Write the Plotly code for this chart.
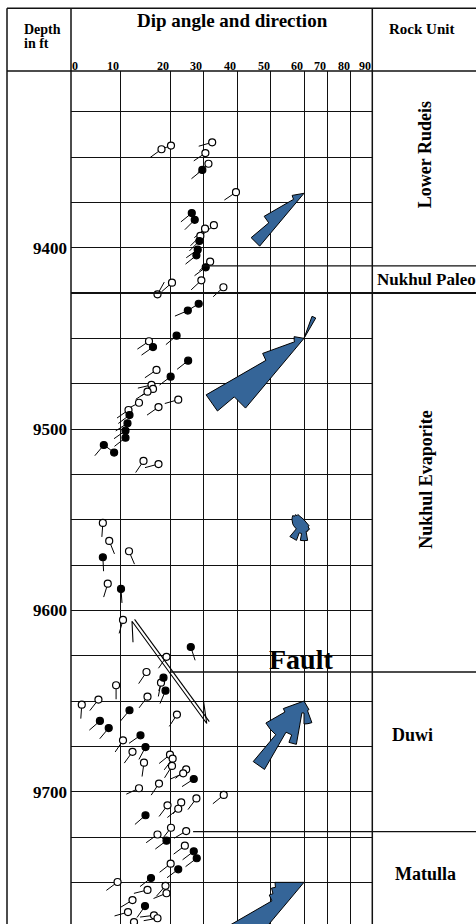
import numpy as np
import plotly.graph_objects as go

FIG_W, FIG_H = 476, 924
SERIF = "Liberation Serif"

# ---- dip track: non-linear dipmeter scale ----
scale_dips = [0, 10, 20, 30, 40, 50, 60, 70, 80, 90]
scale_pos = [0.0, 49.0, 99.0, 132.0, 166.0, 199.7, 233.0, 256.0, 279.7, 301.3]
scale_labels = ["0", "10", "20", "30", "40", "50", "60", "70", "80", "90"]

# ---- depth axis (ft) ----
depth_top = 9302.55
depth_base = 9772.97
depth_ticks = [9400, 9500, 9600, 9700]
grid_step = 25

# ---- tadpoles: depth (ft), dip (deg), dip azimuth (deg), solid symbol flag ----
tad_depth = [9345.7, 9343.7, 9341.9, 9347.8, 9353.7, 9357.1, 9369.4, 9380.9, 9384.6, 9389.5,
             9387.6, 9393.5, 9396.3, 9401.1, 9404.2, 9407.7, 9410.8, 9418.0, 9419.3, 9425.7,
             9421.8, 9430.9, 9434.7, 9448.5, 9451.6, 9454.8, 9462.3, 9467.4, 9471.1, 9475.7,
             9477.9, 9479.4, 9485.5, 9483.8, 9487.9, 9489.5, 9492.3, 9496.8, 9500.9, 9504.8,
             9508.8, 9513.0, 9517.6, 9519.3, 9551.8, 9561.7, 9567.4, 9570.7, 9585.3, 9588.2,
             9605.3, 9620.2, 9625.6, 9634.0, 9637.1, 9639.9, 9644.3, 9641.3, 9647.6, 9649.2,
             9652.0, 9655.1, 9657.5, 9661.0, 9664.9, 9671.7, 9668.9, 9675.4, 9678.0, 9684.0,
             9679.6, 9681.8, 9685.8, 9687.7, 9689.9, 9693.0, 9698.1, 9695.5, 9701.8, 9703.7,
             9705.9, 9709.4, 9707.5, 9713.0, 9719.9, 9721.7, 9723.6, 9727.0, 9729.8, 9732.9,
             9736.7, 9739.7, 9742.8, 9749.8, 9747.6, 9751.9, 9754.2, 9756.0, 9759.8, 9763.1,
             9766.4, 9768.2, 9769.8, 9771.9]
tad_dip = [18.3, 20.3, 32.7, 30.7, 31.6, 29.8, 39.7, 26.6, 27.5, 30.6,
           33.2, 29.2, 28.9, 28.4, 28.0, 32.1, 30.8, 29.5, 20.6, 17.5,
           36.0, 28.7, 25.4, 22.0, 15.8, 16.6, 25.5, 17.3, 20.2, 16.3,
           16.6, 15.5, 13.8, 22.5, 17.7, 11.7, 11.9, 11.5, 11.1, 11.1,
           6.7, 8.8, 14.7, 17.7, 6.5, 7.8, 11.8, 6.5, 7.5, 10.2,
           10.6, 26.3, 19.3, 15.3, 18.7, 18.2, 19.1, 9.2, 15.5, 5.6,
           2.2, 11.9, 22.1, 5.9, 7.7, 10.6, 14.1, 15.1, 12.5, 14.8,
           20.0, 20.8, 20.6, 24.9, 24.0, 27.2, 13.8, 17.8, 36.1, 28.0,
           23.4, 22.5, 19.5, 15.1, 20.3, 24.9, 17.5, 19.3, 24.5, 27.2,
           28.1, 20.2, 22.5, 9.5, 16.2, 19.1, 15.5, 19.3, 12.5, 15.0,
           11.6, 16.8, 17.5, 12.8]
tad_azimuth = [234, 250, 254, 236, 230, 231, 236, 231, 225, 230,
               230, 225, 225, 235, 231, 230, 233, 227, 229, 29,
               227, 238, 247, 230, 236, 235, 232, 236, 233, 257,
               240, 237, 242, 254, 235, 235, 233, 237, 235, 232,
               220, 307, 214, 255, 184, 158, 157, 177, 197, 176,
               196, 162, 215, 214, 200, 191, 203, 180, 217, 218,
               184, 220, 213, 229, 220, 214, 235, 208, 216, 188,
               231, 217, 212, 230, 246, 237, 245, 214, 231, 217,
               215, 231, 217, 229, 218, 239, 234, 233, 233, 233,
               233, 232, 233, 233, 232, 221, 256, 248, 239, 215,
               254, 263, 260, 240]
tad_solid = [0, 0, 0, 0, 0, 1, 0, 1, 1, 0,
             0, 0, 1, 1, 1, 0, 1, 0, 0, 0,
             0, 1, 1, 1, 0, 1, 1, 0, 1, 0,
             0, 0, 0, 0, 0, 0, 1, 1, 1, 1,
             1, 1, 0, 0, 0, 0, 0, 1, 0, 1,
             0, 1, 0, 0, 1, 0, 1, 0, 0, 0,
             0, 1, 0, 1, 1, 0, 1, 1, 0, 0,
             0, 0, 0, 0, 0, 1, 0, 0, 0, 0,
             0, 0, 0, 1, 0, 0, 0, 1, 0, 1,
             1, 0, 1, 0, 1, 0, 0, 0, 0, 1,
             0, 0, 0, 0]

# ---- azimuth roses, 10-degree bins, drawn on the 60-degree line ----
rose_depth = [9370, 9450, 9550, 9650, 9750]
rose_bins = [
    [220, 230, 240, 250],
    [20, 220, 230, 240, 250, 260, 270],
    [140, 150, 160, 170, 180, 190, 200, 210, 220, 230, 240, 250, 260, 270, 280, 290, 300],
    [150, 160, 170, 180, 190, 200, 210, 220, 230, 240],
    [220, 230, 240, 250, 260],
]
rose_len = [
    [69, 46, 12, 12],
    [23.5, 91, 113, 44, 10, 10, 10],
    [8, 11, 12, 21, 21, 14, 22, 22, 12, 12, 12, 12, 12, 12, 12, 10, 8],
    [10, 23, 23, 12, 44, 36, 79, 44, 44, 22],
    [95, 100, 37, 33, 29],
]
rose_at_dip = 60

# ---- rock units ----
unit_names = ["Lower Rudeis", "Nukhul Paleo", "Nukhul Evaporite", "Duwi", "Matulla"]
unit_label_depth = [9349, 9417.5, 9528, 9668.8, 9745.5]
unit_boundaries = [9410, 9425, 9634, 9722]
boundary_from_dip = [30, 0, 20, 27]

# fault trace (dip, depth) at both ends
fault_top = (12.4, 9606.0)
fault_base = (31.1, 9662.4)

# ---- geometry of the log layout (pixels) ----
frame_left, frame_top = 7.0, 8.3
header_bottom = 71.0
track_left, track_right = 71.0, 372.3
PPF = (FIG_H - header_bottom) / (depth_base - depth_top)   # pixels per foot


def dip_pos(d):
    return np.interp(d, scale_dips, scale_pos)


def px(x):
    return x / FIG_W


def py(y):
    return 1 - y / FIG_H


fig = go.Figure()

# tadpole tails
TAIL = 14
tx, ty = [], []
for d, dp, az in zip(tad_depth, tad_dip, tad_azimuth):
    x0 = float(dip_pos(dp))
    a = np.radians(az)
    tx += [x0, x0 + TAIL * np.sin(a), None]
    ty += [d, d - TAIL * np.cos(a) / PPF, None]
fig.add_trace(go.Scatter(x=tx, y=ty, mode="lines", line=dict(color="black", width=1),
                         hoverinfo="skip", showlegend=False))


# roses
def rose_xy(depth, bins, lens):
    cx = float(dip_pos(rose_at_dip))
    runs = []
    for b, r in sorted(zip(bins, lens)):
        if runs and runs[-1][-1][0] + 10 == b:
            runs[-1].append((b, r))
        else:
            runs.append([(b, r)])
    xs, ys = [], []
    for run in runs:
        pts = [(0.0, 0.0)]
        for b, r in run:
            pts += [(b, r), (b + 10, r)]
        pts.append((0.0, 0.0))
        for az, r in pts:
            a = np.radians(az)
            xs.append(cx + r * np.sin(a))
            ys.append(depth - r * np.cos(a) / PPF)
        xs.append(None)
        ys.append(None)
    return xs, ys


for d, b, l in zip(rose_depth, rose_bins, rose_len):
    xs, ys = rose_xy(d, b, l)
    fig.add_trace(go.Scatter(x=xs, y=ys, mode="lines", fill="toself",
                             fillcolor="#356598", line=dict(color="black", width=1),
                             hoverinfo="skip", showlegend=False))

# fault symbol: two parallel strokes with end barbs
fx0, fd0 = float(dip_pos(fault_top[0])), fault_top[1]
fx1, fd1 = float(dip_pos(fault_base[0])), fault_base[1]
vx, vy = fx1 - fx0, (fd1 - fd0) * PPF
ln = np.hypot(vx, vy)
nx, ny = vy / ln * 3.2, -vx / ln * 3.2
fault_x = [fx0 + 1.0, fx0, fx1, fx1 - 3.3, None, fx0 + nx, fx1 + nx]
fault_y = [fd0 + 21 / PPF, fd0, fd1, fd1 - 23 / PPF, None, fd0 + ny / PPF, fd1 + ny / PPF]
fig.add_trace(go.Scatter(x=fault_x, y=fault_y, mode="lines",
                         line=dict(color="black", width=1.1),
                         hoverinfo="skip", showlegend=False))

# tadpole heads
for solid, fill in ((0, "white"), (1, "black")):
    idx = [i for i, s in enumerate(tad_solid) if s == solid]
    fig.add_trace(go.Scatter(
        x=[float(dip_pos(tad_dip[i])) for i in idx],
        y=[tad_depth[i] for i in idx],
        mode="markers",
        marker=dict(symbol="circle", size=7, color=fill,
                    line=dict(color="black", width=1.2)),
        hoverinfo="skip", showlegend=False))

# ---- frame and column lines ----
LC = "#111111"
shapes = [
    dict(type="line", xref="paper", yref="paper", x0=px(frame_left), x1=1,
         y0=py(frame_top), y1=py(frame_top), line=dict(color=LC, width=1.5)),
    dict(type="line", xref="paper", yref="paper", x0=px(frame_left), x1=1,
         y0=py(header_bottom), y1=py(header_bottom), line=dict(color=LC, width=1.5)),
]
for xc in (frame_left, track_left, track_right):
    shapes.append(dict(type="line", xref="paper", yref="paper", x0=px(xc), x1=px(xc),
                       y0=py(frame_top), y1=0, line=dict(color=LC, width=1.5)))
for top, dfrom in zip(unit_boundaries, boundary_from_dip):
    shapes.append(dict(type="line", xref="paper", yref="y",
                       x0=px(track_left + float(dip_pos(dfrom))), x1=1, y0=top, y1=top,
                       line=dict(color=LC, width=2 if dfrom == 0 else 1.4)))

# ---- text ----
ann = []


def bold(t):
    return "<b>" + t + "</b>"


ann.append(dict(text=bold("Depth"), xref="paper", yref="paper", x=px(22), y=py(29),
                xanchor="left", yanchor="middle", showarrow=False,
                font=dict(family=SERIF, size=14, color="black")))
ann.append(dict(text=bold("in ft"), xref="paper", yref="paper", x=px(22), y=py(43),
                xanchor="left", yanchor="middle", showarrow=False,
                font=dict(family=SERIF, size=14, color="black")))
ann.append(dict(text=bold("Dip angle and direction"), xref="paper", yref="paper",
                x=px(232.5), y=py(21), xanchor="center", yanchor="middle", showarrow=False,
                font=dict(family=SERIF, size=19, color="black")))
ann.append(dict(text=bold("Rock Unit"), xref="paper", yref="paper", x=px(421.5), y=py(29.5),
                xanchor="center", yanchor="middle", showarrow=False,
                font=dict(family=SERIF, size=15, color="black")))
# dip scale labels sit just left of their grid lines (the 0 starts on the track edge)
for d, lab in zip(scale_dips, scale_labels):
    xline = track_left + float(dip_pos(d))
    ann.append(dict(text=bold(lab), xref="paper", yref="paper",
                    x=px(xline - 1.5) if d == 0 else px(xline + 1),
                    y=py(65.5), xanchor="left" if d == 0 else "right", yanchor="middle",
                    showarrow=False, font=dict(family=SERIF, size=12, color="black")))
ann.append(dict(text=bold("Fault"), xref="x", yref="y", x=float(dip_pos(59)), y=9627.3,
                xanchor="center", yanchor="middle", showarrow=False,
                font=dict(family=SERIF, size=28, color="black")))

unit_x = [425, 374.5, 426, 412, 425]
unit_rot = [True, False, True, False, False]
for name, d, xx, rot in zip(unit_names, unit_label_depth, unit_x, unit_rot):
    ann.append(dict(text=bold(name), xref="paper", yref="y", x=px(xx), y=d,
                    xanchor="center" if (rot or xx > 400) else "left",
                    yanchor="middle", showarrow=False, textangle=-90 if rot else 0,
                    font=dict(family=SERIF, size=17 if name == "Nukhul Paleo" else 18,
                              color="black")))

grid_depths = list(np.arange(9325, depth_base, grid_step))

fig.update_layout(
    width=FIG_W, height=FIG_H,
    margin=dict(l=0, r=0, t=0, b=0),
    paper_bgcolor="white", plot_bgcolor="white",
    template="none",
    showlegend=False,
    shapes=shapes,
    annotations=ann,
    xaxis=dict(domain=[px(track_left), px(track_right)], range=[0, scale_pos[-1]],
               tickvals=scale_pos, showticklabels=False, ticks="",
               showgrid=True, gridcolor=LC, gridwidth=1.4, zeroline=False,
               showline=False, automargin=False, fixedrange=True),
    yaxis=dict(domain=[0, py(header_bottom)], range=[depth_base, depth_top],
               tickvals=depth_ticks, ticktext=[bold(str(t)) for t in depth_ticks],
               tickfont=dict(family=SERIF, size=17, color="black"),
               ticks="", ticklabelstandoff=3,
               showgrid=True, gridcolor=LC, gridwidth=1.4,
               minor=dict(tickvals=grid_depths, showgrid=True, gridcolor=LC, gridwidth=1.4,
                          ticks=""),
               zeroline=False, showline=False, automargin=False, fixedrange=True),
)

fig.write_html("out.html")
